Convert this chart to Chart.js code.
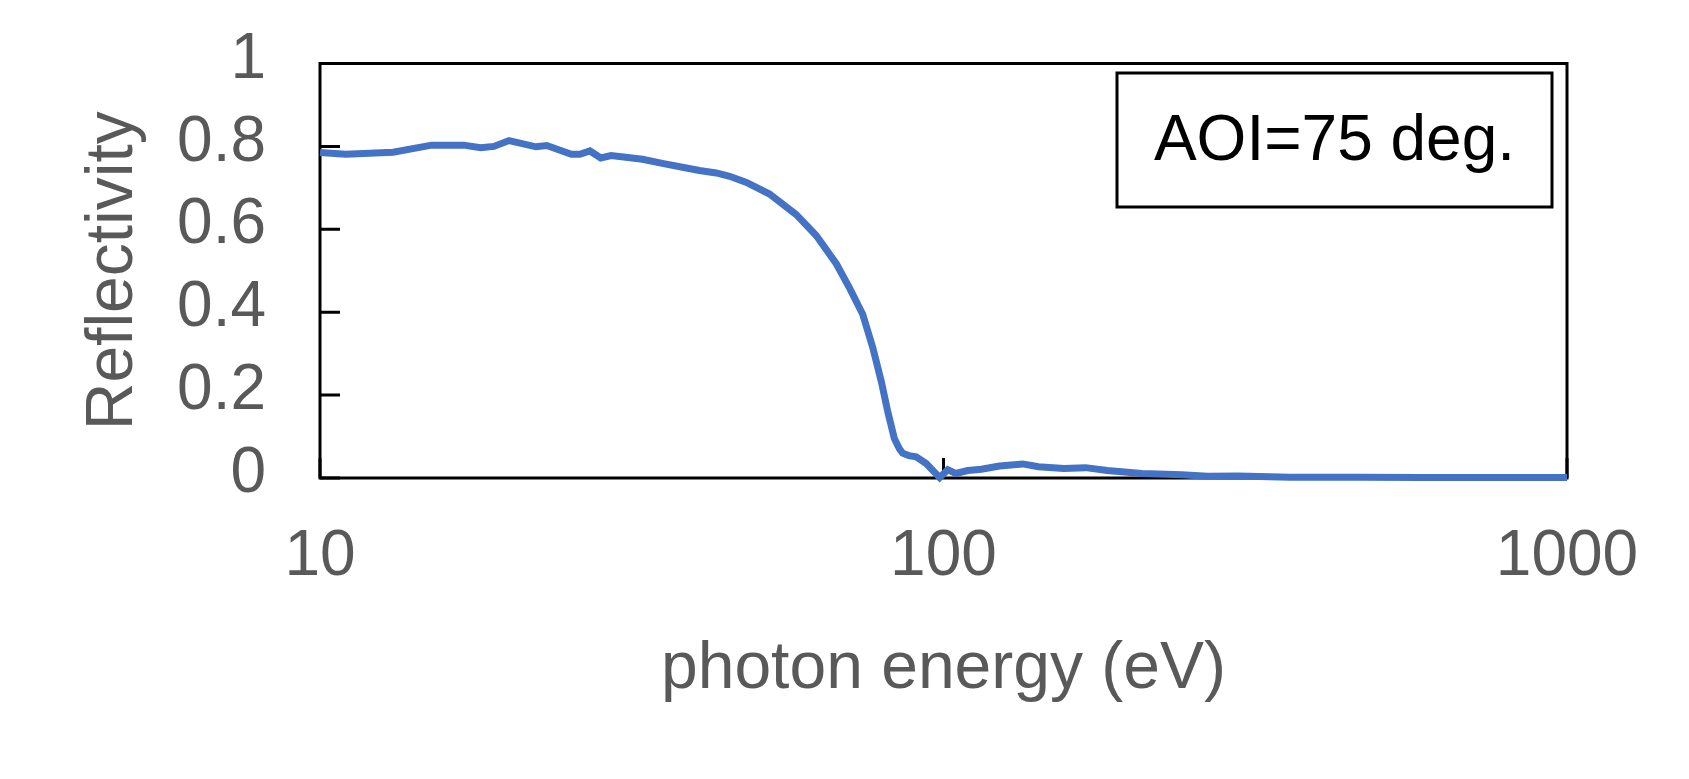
<!DOCTYPE html>
<html lang="en">
<head>
  <meta charset="UTF-8" />
  <title>Reflectivity vs photon energy</title>
  <script src="https://cdn.jsdelivr.net/npm/chart.js"></script>
  <style>
    body {
      margin: 0;
      background: #fff;
    }
    #wrap {
      width: 1689px;
      height: 779px;
    }
  </style>
</head>
<body>
  <div id="wrap"><canvas id="reflChart"></canvas></div>

  <script>
    // values (photon energy in eV, reflectivity)
    const energy = [
      10.0, 11.0, 13.1, 15.1, 17.0, 18.1, 19.0, 20.1, 22.2, 23.1,
      25.3, 26.1, 27.1, 28.2, 29.3, 32.9, 35.4, 38.7, 40.6, 43.2,
      45.4, 48.3, 52.6, 58.0, 62.5, 67.3, 70.7, 74.2, 77.0, 79.5,
      81.4, 83.4, 85.0, 86.0, 88.0, 90.4, 93.8, 98.6, 101.6, 104.6,
      109.4, 115, 123, 134, 142, 156, 169, 183, 208, 241,
      265, 297, 360, 467, 584, 1000
    ];
    const reflectivity = [
      0.785, 0.781, 0.786, 0.803, 0.803, 0.797, 0.800, 0.814, 0.799, 0.802,
      0.781, 0.781, 0.789, 0.772, 0.778, 0.769, 0.759, 0.748, 0.742, 0.736,
      0.728, 0.713, 0.685, 0.636, 0.585, 0.517, 0.458, 0.395, 0.315, 0.232,
      0.160, 0.095, 0.070, 0.060, 0.054, 0.051, 0.035, 0.001, 0.020, 0.011,
      0.018, 0.021, 0.029, 0.034, 0.027, 0.023, 0.025, 0.018, 0.011, 0.008,
      0.004, 0.005, 0.002, 0.002, 0.001, 0.001
    ];

    const xTickValues = [10, 100, 1000];
    const yTickValues = [0, 0.2, 0.4, 0.6, 0.8, 1];
    const yTickLabels = ['0', '0.2', '0.4', '0.6', '0.8', '1'];
    const noteText = 'AOI=75 deg.';

    const labelGrey = '#595959';
    const lineBlue = '#4472C4';
    const fontFamily = '"Liberation Sans", Arial, sans-serif';

    // frame + inward tick marks, drawn under the curve
    const framePlugin = {
      id: 'frame',
      beforeDatasetsDraw(chart) {
        const { ctx, chartArea: a, scales } = chart;
        ctx.save();
        ctx.strokeStyle = '#000';
        ctx.lineWidth = 3;
        ctx.strokeRect(a.left, a.top, a.right - a.left, a.bottom - a.top);
        ctx.beginPath();
        yTickValues.forEach(v => {
          const p = scales.y.getPixelForValue(v);
          ctx.moveTo(a.left, p);
          ctx.lineTo(a.left + 20, p);
        });
        xTickValues.forEach(v => {
          const p = scales.x.getPixelForValue(v);
          ctx.moveTo(p, a.bottom);
          ctx.lineTo(p, a.bottom - 20);
        });
        ctx.stroke();
        ctx.restore();
      }
    };

    // boxed note in the top right corner
    const notePlugin = {
      id: 'note',
      afterDraw(chart) {
        const { ctx, chartArea: a } = chart;
        const w = 435, h = 134;
        const bx = a.right - 15 - w;
        const by = a.top + 9.5;
        ctx.save();
        ctx.fillStyle = '#fff';
        ctx.fillRect(bx, by, w, h);
        ctx.strokeStyle = '#000';
        ctx.lineWidth = 3;
        ctx.strokeRect(bx, by, w, h);
        ctx.fillStyle = '#000';
        ctx.font = '64px ' + fontFamily;
        ctx.textAlign = 'center';
        ctx.textBaseline = 'middle';
        ctx.fillText(noteText, bx + w / 2, by + h / 2 + 2);
        ctx.restore();
      }
    };

    const ctx = document.getElementById('reflChart').getContext('2d');
    const chart = new Chart(ctx, {
      type: 'line',
      data: {
        datasets: [{
          label: 'Reflectivity',
          data: energy.map((e, i) => ({ x: e, y: reflectivity[i] })),
          borderColor: lineBlue,
          backgroundColor: lineBlue,
          borderWidth: 7,
          pointRadius: 0,
          tension: 0,
          clip: false
        }]
      },
      options: {
        responsive: true,
        maintainAspectRatio: false,
        animation: false,
        devicePixelRatio: 1,
        layout: {
          padding: { top: 63.5, right: 122, bottom: 0, left: 0 }
        },
        plugins: {
          legend: { display: false },
          tooltip: { enabled: false }
        },
        scales: {
          x: {
            type: 'logarithmic',
            min: 10,
            max: 1000,
            grid: { display: false, drawTicks: false },
            border: { display: false },
            afterBuildTicks: scale => {
              scale.ticks = xTickValues.map(v => ({ value: v }));
            },
            afterFit: scale => {
              scale.height = 301;
              scale.paddingLeft = 0;
              scale.paddingRight = 0;
            },
            ticks: {
              padding: 41,
              autoSkip: false,
              color: labelGrey,
              font: { family: fontFamily, size: 64 },
              maxRotation: 0,
              callback: v => String(v)
            },
            title: {
              display: true,
              text: 'photon energy (eV)',
              color: labelGrey,
              font: { family: fontFamily, size: 66 },
              padding: { top: 0, bottom: 70 }
            }
          },
          y: {
            min: 0,
            max: 1,
            grid: { display: false, drawTicks: false },
            border: { display: false },
            afterBuildTicks: scale => {
              scale.ticks = yTickValues.map(v => ({ value: v }));
            },
            afterFit: scale => {
              scale.width = 320;
              scale.paddingTop = 0;
              scale.paddingBottom = 0;
            },
            ticks: {
              padding: 54,
              autoSkip: false,
              labelOffset: -3.5,
              color: labelGrey,
              font: { family: fontFamily, size: 64 },
              callback: (v, i) => yTickLabels[i]
            },
            title: {
              display: true,
              text: 'Reflectivity',
              color: labelGrey,
              font: { family: fontFamily, size: 66 },
              padding: { top: 74, bottom: 0 }
            }
          }
        }
      },
      plugins: [framePlugin, notePlugin]
    });
  </script>
</body>
</html>
